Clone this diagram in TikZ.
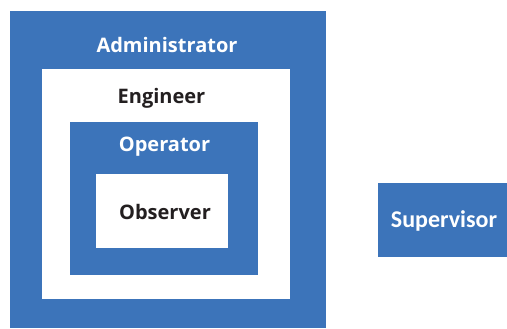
\documentclass[tikz,border=0pt]{standalone}
\usepackage{fontspec}
\setmainfont{Open Sans}
\newfontfamily\supfont{Carlito}
\definecolor{geblue}{HTML}{3C74BA}
\definecolor{txtdark}{HTML}{231F20}
\tikzset{
  box/.style={inner sep=0pt, outer sep=0pt, draw=none, anchor=north west},
  bluebox/.style={box, fill=geblue},
  whitebox/.style={box, fill=white},
  lbl/.style={anchor=base, inner sep=0pt, font=\bfseries\fontsize{20}{23}\selectfont},
  lblw/.style={lbl, text=white},
  lbld/.style={lbl, text=txtdark},
}
\begin{document}
\begin{tikzpicture}[x=1pt,y=-1pt]
\useasboundingbox (0,0) rectangle (507,329);
\node[bluebox, minimum width=316pt, minimum height=317pt] (admin) at (10,11) {};
\node[whitebox, minimum width=248pt, minimum height=230pt] (eng) at (42,69) {};
\node[bluebox, minimum width=188pt, minimum height=153pt] (op) at (70,122) {};
\node[whitebox, minimum width=132pt, minimum height=74pt] (obs) at (96,174) {};
\node[bluebox, minimum width=129pt, minimum height=74pt] (sup) at (378,183) {};
\node[lblw] (adminlbl) at (167,53) {Administrator};
\node[lbld] (englbl) at (161.5,104) {Engineer};
\node[lblw] (oplbl) at (164.5,152) {Operator};
\node[lbld] (obslbl) at (165,219) {Observer};
\node[lblw, font=\supfont\bfseries\fontsize{24}{26}\selectfont] (suplbl) at (444,227) {Supervisor};
\end{tikzpicture}
\end{document}
